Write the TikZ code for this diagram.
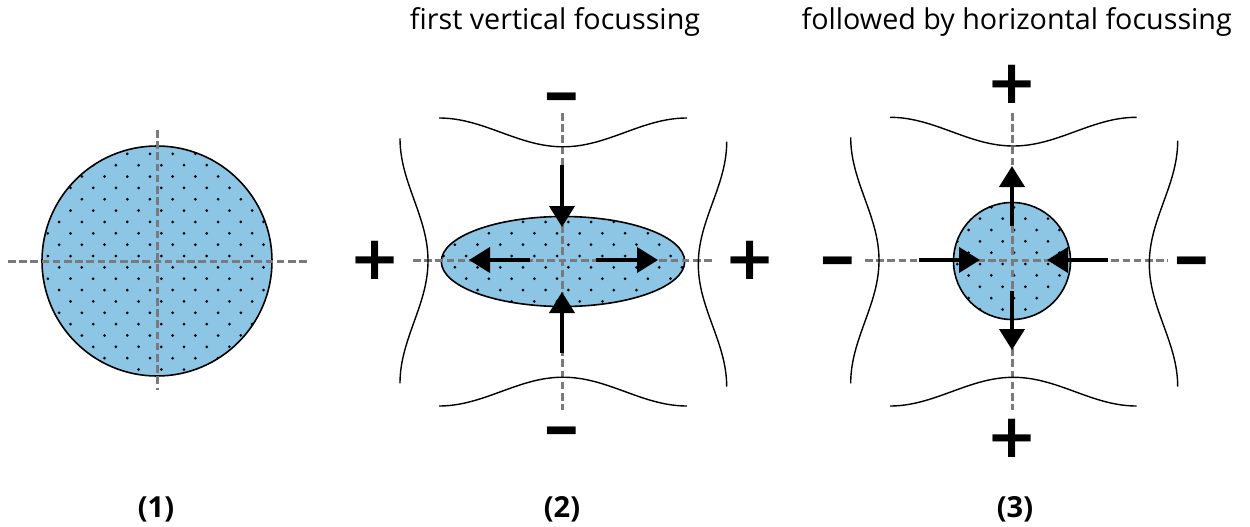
\documentclass[tikz,border=0pt]{standalone}
\usepackage{fontspec}
\setsansfont{Open Sans}
\newfontfamily\signfont{DejaVu Sans}
\usetikzlibrary{arrows.meta}

\definecolor{beam}{RGB}{140,198,228}
\definecolor{axisgrey}{RGB}{122,122,126}

% regular stipple of small dots; #1 = x of one dot, #2 = y of its row
\newcommand\stipplefield[2]{%
  \foreach \j in {-12,...,12}{%
    \foreach \i in {-7,...,7}{%
      \fill ({#1+22.7*\i+11.35*Mod(\j,2)},{#2+11.35*\j}) circle[radius=1.5pt];
    }%
  }%
}

\tikzset{
  beamshape/.style={fill=beam, draw=black, line width=1.6pt},
  axisline/.style={draw=axisgrey, line width=3pt, dash pattern=on 7.5pt off 3.7pt},
  pole/.style={draw=black, line width=1.4pt},
  force/.style={line width=4pt, -{Triangle[length=21pt,width=25pt]}},
  sign/.style={font=\signfont\bfseries\fontsize{61}{61}\selectfont, inner sep=0pt},
  title/.style={font=\sffamily\fontsize{28.7}{32}\selectfont, anchor=base, inner sep=0pt},
  tag/.style={font=\sffamily\bfseries\fontsize{29}{34}\selectfont, anchor=base, inner sep=0pt},
}
% the minus sign of the pole charges: a bold dash, slightly widened
\newcommand\poleminus{\scalebox{1.2}[1]{–}}

\begin{document}
\begin{tikzpicture}[x=1pt,y=-1pt]
\useasboundingbox (0,0) rectangle (1250,527);

% ---------- titles and panel tags ----------
\node[title] (t2) at (555,29.3) {first vertical focussing};
\node[title] (t3) at (1016.7,29.3) {followed by horizontal focussing};
\node[tag] (l1) at (156,517.5) {(1)};
\node[tag] (l2) at (562,517.5) {(2)};
\node[tag] (l3) at (1015,517.5) {(3)};

% ---------- panel 1: round beam ----------
\fill[beam] (157,261) circle[radius=115pt];
\begin{scope}
  \clip (157,261) circle[radius=115pt];
  \stipplefield{161.3}{256}
\end{scope}
\draw[beamshape, fill=none] (157,261) circle[radius=115pt];
\draw[axisline] (157,130) -- (157,390);
\draw[axisline] (8,261) -- (308,261);

% ---------- panel 2: vertically focussed beam ----------
\fill[beam] (563,261.5) ellipse[x radius=121.7pt, y radius=45pt];
\begin{scope}
  \clip (563,261.5) ellipse[x radius=121.7pt, y radius=45pt];
  \stipplefield{557}{256}
\end{scope}
\draw[beamshape, fill=none] (563,261.5) ellipse[x radius=121.7pt, y radius=45pt];
\draw[axisline] (562,113) -- (562,410);
\draw[axisline] (413,260) -- (713,260);

\draw[pole] plot[domain=-124:124, samples=70] ({563+\x},{118+14.4*(1+cos(\x/124*180))});
\draw[pole] plot[domain=-124:124, samples=70] ({563+\x},{406-14.4*(1+cos(\x/124*180))});
\draw[pole] plot[domain=-122.5:122.5, samples=70] ({400+14*(1+cos(\x/122.5*180))},{260.8+\x});
\draw[pole] plot[domain=-122.5:122.5, samples=70] ({726.7-14.2*(1+cos(\x/122.5*180))},{264.2+\x});

\node[sign] (m2t) at (562,103.5) {\poleminus};
\node[sign] (m2b) at (562,437.5) {\poleminus};
\node[sign] (p2l) at (375,260.7) {+};
\node[sign] (p2r) at (750,260.7) {+};

\coordinate (a2ds) at (562,165);  \coordinate (a2de) at (562,227);
\coordinate (a2us) at (562,353);  \coordinate (a2ue) at (562,292);
\coordinate (a2ls) at (530,260);  \coordinate (a2le) at (469,260);
\coordinate (a2rs) at (596,260);  \coordinate (a2re) at (658,260);
\draw[force] (a2ds) -- (a2de);
\draw[force] (a2us) -- (a2ue);
\draw[force] (a2ls) -- (a2le);
\draw[force] (a2rs) -- (a2re);

% ---------- panel 3: horizontally focussed beam ----------
\fill[beam] (1012,261) circle[radius=58.5pt];
\begin{scope}
  \clip (1012,261) circle[radius=58.5pt];
  \stipplefield{1014}{252.7}
\end{scope}
\draw[beamshape, fill=none] (1012,261) circle[radius=58.5pt];
\draw[axisline] (1012,113) -- (1012,410);
\draw[axisline] (865,260) -- (1168,260);

\draw[pole] plot[domain=-123.3:123.3, samples=70] ({1013.3+\x},{117.3+14.35*(1+cos(\x/123.3*180))});
\draw[pole] plot[domain=-123.3:123.3, samples=70] ({1013.3+\x},{406-14.35*(1+cos(\x/123.3*180))});
\draw[pole] plot[domain=-123:123, samples=70] ({850.7+14.15*(1+cos(\x/123*180))},{260.3+\x});
\draw[pole] plot[domain=-123:123, samples=70] ({1177.7-14.2*(1+cos(\x/123*180))},{263.7+\x});

\node[sign] (p3t) at (1012,84) {+};
\node[sign] (p3b) at (1012,438.7) {+};
\node[sign] (m3l) at (837.5,267.3) {\poleminus};
\node[sign] (m3r) at (1192,267.5) {\poleminus};

\coordinate (a3us) at (1012,226);  \coordinate (a3ue) at (1012,166);
\coordinate (a3ds) at (1012,291);  \coordinate (a3de) at (1012,350);
\coordinate (a3ls) at (919,260);   \coordinate (a3le) at (980,260);
\coordinate (a3rs) at (1108,260);  \coordinate (a3re) at (1047,260);
\draw[force] (a3us) -- (a3ue);
\draw[force] (a3ds) -- (a3de);
\draw[force] (a3ls) -- (a3le);
\draw[force] (a3rs) -- (a3re);
\end{tikzpicture}
\end{document}
